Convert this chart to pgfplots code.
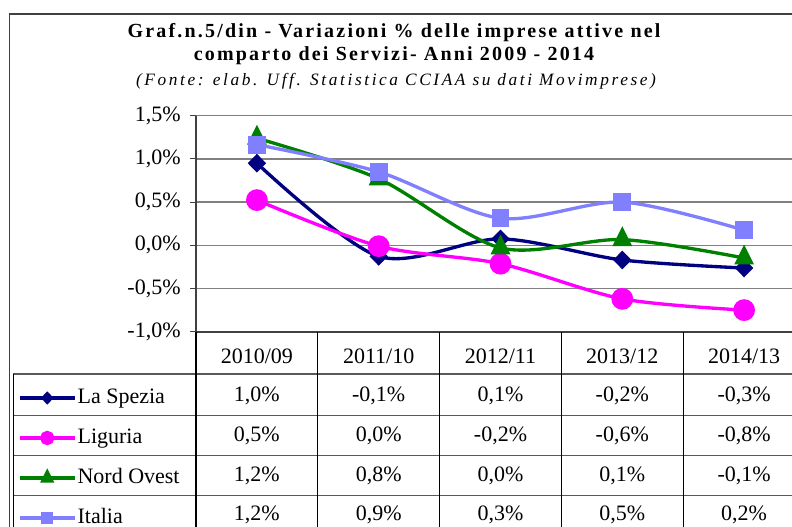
\documentclass[border=0pt]{standalone}
\usepackage{pgfplots}
\pgfplotsset{compat=1.18}
\usepackage{fontspec}
\setmainfont{Liberation Serif}
\definecolor{cSpezia}{RGB}{0,0,128}
\definecolor{cLiguria}{RGB}{255,0,255}
\definecolor{cNord}{RGB}{0,128,0}
\definecolor{cItalia}{RGB}{128,128,255}
\definecolor{gridc}{RGB}{128,128,128}
\definecolor{axc}{RGB}{64,64,64}

\begin{document}
\begin{tikzpicture}[x=0.75pt,y=0.75pt,font=\fontsize{16.5pt}{19pt}\selectfont]
\useasboundingbox (0,0) rectangle (792,527);
\clip (0,0) rectangle (792,527);
\coordinate (AxSW) at (196,195.3);
% titles
\node[anchor=base, inner sep=0pt, font=\fontsize{15pt}{17pt}\selectfont\bfseries\addfontfeature{LetterSpace=11}] at (394,489.3) {Graf.n.5/din - Variazioni \% delle imprese attive nel};
\node[anchor=base, inner sep=0pt, font=\fontsize{15pt}{17pt}\selectfont\bfseries\addfontfeature{LetterSpace=11}] at (394,466) {comparto dei Servizi- Anni 2009 - 2014};
\node[anchor=base, inner sep=0pt, font=\fontsize{13pt}{15pt}\selectfont\itshape\addfontfeature{LetterSpace=15}] at (396,441.5) {(Fonte: elab. Uff. Statistica CCIAA su dati Movimprese)};

\begin{axis}[
  at={(AxSW)}, anchor=south west,
  scale only axis, width=456.75pt, height=162pt,
  xmin=-0.5, xmax=4.5, ymin=-1, ymax=1.5,
  axis lines=left,
  x axis line style={-, line width=1.5pt, color=axc},
  y axis line style={-, line width=1pt, color=axc},
  xtick={0,1,2,3,4},
  xticklabels={2010/09,2011/10,2012/11,2013/12,2014/13},
  xticklabel style={anchor=base, yshift=-19.7pt},
  major x tick style={draw=none},
  ytick={-1,-0.5,0,0.5,1,1.5},
  yticklabels={{-1,0\%},{-0,5\%},{0,0\%},{0,5\%},{1,0\%},{1,5\%}},
  yticklabel style={xshift=-3.5pt},
  tick align=outside,
  major tick length=4.5pt,
  major y tick style={line width=0.8pt, color=axc},
  ymajorgrids,
  grid style={line width=1pt, color=gridc},
  clip=false,
  legend image code/.code={\draw[mark repeat=2,mark phase=2,#1] plot coordinates {(0pt,0pt) (20.5pt,0pt) (41pt,0pt)};},
  legend image post style={every mark/.append style={scale=0.6}},
  legend style={at={(axis description cs:-0.2923,-0.2532)}, anchor=north west,
    draw=none, fill=none, inner sep=0pt, row sep=13pt, column sep=1pt,
    cells={anchor=west}, nodes={inner sep=0pt, text height=13pt, text depth=4pt}},
]
\addplot[cSpezia, line width=2.5pt, smooth, tension=0.5, mark=diamond*, mark size=5.25pt,
  mark options={solid, fill=cSpezia, xscale=1.3}]
  coordinates {(0,0.95) (1,-0.128) (2,0.074) (3,-0.17) (4,-0.263)};
\addlegendentry{La Spezia}
\addplot[cLiguria, line width=2.5pt, smooth, tension=0.5, mark=*, mark size=6.9pt,
  mark options={solid, fill=cLiguria}]
  coordinates {(0,0.523) (1,-0.01) (2,-0.213) (3,-0.62) (4,-0.75)};
\addlegendentry{Liguria}
\addplot[cNord, line width=2.5pt, smooth, tension=0.5, mark=triangle*, mark size=6.3pt,
  mark options={solid, fill=cNord, yscale=1.15}]
  coordinates {(0,1.24) (1,0.77) (2,-0.03) (3,0.066) (4,-0.147)};
\addlegendentry{Nord Ovest}
\addplot[cItalia, line width=2.5pt, smooth, tension=0.5, mark=square*, mark size=5.4pt,
  mark options={solid, fill=cItalia}]
  coordinates {(0,1.165) (1,0.85) (2,0.313) (3,0.50) (4,0.175)};
\addlegendentry{Italia}
\end{axis}

% data table grid
\draw[line width=1.2pt, color=black!75] (9.5,0) -- (9.5,513) -- (792,513);
\foreach \yy in {153,111.3,71.3,31.3} \draw[line width=1pt, color=black!65] (13.3,\yy) -- (792,\yy);
\draw[line width=1pt, color=black] (13.3,153) -- (13.3,0);
\foreach \xx in {196,317.8,439.6,561.4,683.2} \draw[line width=1pt, color=black] (\xx,195.3) -- (\xx,0);
% table values
\foreach \v [count=\i] in {{1,0\%},{-0,1\%},{0,1\%},{-0,2\%},{-0,3\%}}
  \node[anchor=base, inner sep=0pt] at (196+121.8*\i-60.9,125.3) {\v};
\foreach \v [count=\i] in {{0,5\%},{0,0\%},{-0,2\%},{-0,6\%},{-0,8\%}}
  \node[anchor=base, inner sep=0pt] at (196+121.8*\i-60.9,85.3) {\v};
\foreach \v [count=\i] in {{1,2\%},{0,8\%},{0,0\%},{0,1\%},{-0,1\%}}
  \node[anchor=base, inner sep=0pt] at (196+121.8*\i-60.9,45.3) {\v};
\foreach \v [count=\i] in {{1,2\%},{0,9\%},{0,3\%},{0,5\%},{0,2\%}}
  \node[anchor=base, inner sep=0pt] at (196+121.8*\i-60.9,6.3) {\v};
\end{tikzpicture}
\end{document}
